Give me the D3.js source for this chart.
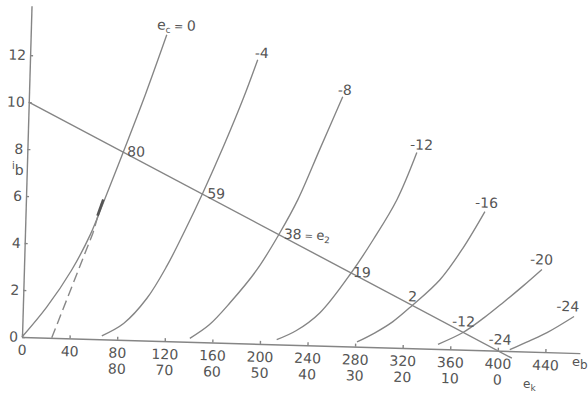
<!DOCTYPE html>
<html><head><meta charset="utf-8">
<script src="https://cdn.jsdelivr.net/npm/d3@7"></script>
<style>
html,body{margin:0;padding:0;background:#fff;}
svg{display:block;}
text{font-family:"DejaVu Sans",sans-serif;fill:#555;}
</style></head><body>
<svg id="c" width="588" height="395"></svg>
<script>
// ---- data (e_b volts, i_b mA) ----
const xTicks = [0, 40, 80, 120, 160, 200, 240, 280, 320, 360, 400, 440];
const ekTickPos = [80, 120, 160, 200, 240, 280, 320, 360, 400];
const ekLabels = ["80", "70", "60", "50", "40", "30", "20", "10", "0"];
const yTicks = [0, 2, 4, 6, 8, 10, 12];
const gridVolts = ["0", "-4", "-8", "-12", "-16", "-20", "-24"];
const curveEc0   = [[0,0],[20,1.3],[40,2.9],[55,4.45],[65,5.8],[81,8.05],[98,10.5],[114.3,13.03]];
const curveEc4   = [[67,0.15],[85,0.7],[104,1.8],[120,3.2],[134,4.7],[148.4,6.35],[165,8.4],[180,10.4],[191.3,12.08]];
const curveEc8   = [[141,0.15],[157,0.75],[173.9,1.71],[195.7,3.15],[214.1,4.75],[228.4,6.18],[246,8.4],[263.6,10.61]];
const curveEc12  = [[214,0.2],[230,0.6],[249.7,1.4],[275.6,3.18],[293,4.6],[311.6,6.3],[327.2,8.33]];
const curveEc16  = [[281.5,0.2],[296,0.6],[311.2,1.11],[326.8,1.81],[349.7,2.95],[368,4.3],[385.8,5.9]];
const curveEc20  = [[349.6,0.2],[370.3,0.73],[388,1.4],[403.2,2.05],[420,2.8],[435.1,3.51]];
const curveEc24  = [[410,0.06],[426,0.45],[440.9,0.83],[463.2,1.55]];
const loadLine   = [[0,10],[412,-0.3]];
const dashedLine = [[25,0],[57,4.5],[64,5.85]];
const boldMark   = [[60.5,5.25],[65,5.95]];
const outputLabels = ["80", "59", "38", "19", "2", "-12", "-24"];

const curves = [curveEc0, curveEc4, curveEc8, curveEc12, curveEc16, curveEc20, curveEc24];

// ---- layout / style ----
const svg = d3.select("#c");
const lineColor = "#858585";
const x = d3.scaleLinear().domain([0, 469]).range([0, 469 * 1.19]);
const y = d3.scaleLinear().domain([0, 14.1]).range([0, -14.1 * 23.5]);
const g = svg.append("g").attr("transform", "translate(22,337) rotate(1.65)");

const line = d3.line().x(d => x(d[0])).y(d => y(d[1]));
const smooth = d3.line().x(d => x(d[0])).y(d => y(d[1])).curve(d3.curveCatmullRom.alpha(0.5));

// axes
const xAxis = g.append("g").call(d3.axisBottom(x).tickValues(xTicks).tickSize(-3).tickSizeOuter(0).tickPadding(8));
const ekAxis = g.append("g").call(d3.axisBottom(x).tickValues(ekTickPos).tickFormat((d, i) => ekLabels[i]).tickSize(0).tickPadding(24));
ekAxis.select(".domain").remove();
const yAxis = g.append("g").call(d3.axisLeft(y).tickValues(yTicks).tickSize(-3).tickSizeOuter(0).tickPadding(4));
[xAxis, ekAxis, yAxis].forEach(a => {
  a.selectAll("path, line").attr("stroke", lineColor).attr("stroke-width", 1.4);
  a.selectAll("text").attr("font-family", "DejaVu Sans, sans-serif").attr("font-size", 14).attr("fill", "#555");
});
xAxis.selectAll("text").attr("fill", "#444");

// characteristic curves
g.selectAll("path.curve").data(curves).join("path")
  .attr("class", "curve")
  .attr("d", smooth)
  .attr("fill", "none").attr("stroke", lineColor).attr("stroke-width", 1.35);

// load line
g.append("path").attr("d", line(loadLine))
  .attr("fill", "none").attr("stroke", lineColor).attr("stroke-width", 1.4);

// dashed line
g.append("path").attr("d", line(dashedLine))
  .attr("fill", "none").attr("stroke", "#888").attr("stroke-width", 1.4)
  .attr("stroke-dasharray", "10,5");
g.append("path").attr("d", line(boldMark))
  .attr("fill", "none").attr("stroke", "#555").attr("stroke-width", 2.6);

// curve labels at top ends
const topOffsets = [[-10,-5],[-3,-2],[-5,-2],[-7,-3],[-10,-4],[-12,-5],[-18,-5]];
curves.forEach((c, i) => {
  const p = c[c.length - 1];
  const t = g.append("text")
    .attr("x", x(p[0]) + topOffsets[i][0])
    .attr("y", y(p[1]) + topOffsets[i][1])
    .attr("font-size", 14);
  if (i === 0) {
    t.attr("fill", "#333");
    t.append("tspan").text("e");
    t.append("tspan").attr("font-size", 9).attr("dy", 3).text("c");
    t.append("tspan").attr("dy", -3).attr("font-size", 11).text(" = ");
    t.append("tspan").text(gridVolts[i]);
  } else {
    t.text(gridVolts[i]);
  }
});

// intersection labels with load line
const loadAt = e => loadLine[0][1] + (loadLine[1][1] - loadLine[0][1]) * (e - loadLine[0][0]) / (loadLine[1][0] - loadLine[0][0]);
function crossing(c) {
  for (let k = 0; k < c.length - 1; k++) {
    const a = c[k], b = c[k + 1];
    const fa = a[1] - loadAt(a[0]), fb = b[1] - loadAt(b[0]);
    if (fa <= 0 && fb >= 0) {
      const t = fa / (fa - fb);
      return [a[0] + t * (b[0] - a[0]), a[1] + t * (b[1] - a[1])];
    }
  }
  return c[0];
}
const outOffsets = [[4,4,"start"],[5,4,"start"],[5,4,"start"],[2,4,"start"],[0,-4,"middle"],[0,-6,"middle"],[-10,-5,"middle"]];
curves.forEach((c, i) => {
  const p = crossing(c);
  const t = g.append("text")
    .attr("x", x(p[0]) + outOffsets[i][0])
    .attr("y", y(p[1]) + outOffsets[i][1])
    .attr("text-anchor", outOffsets[i][2])
    .attr("font-size", 14);
  t.append("tspan").text(outputLabels[i]);
  if (i === 2) {
    t.append("tspan").attr("font-size", 10).text(" = ");
    t.append("tspan").attr("font-size", 13).text("e");
    t.append("tspan").attr("font-size", 9).attr("dy", 3).text("2");
  }
});

// axis titles
const ib = svg.append("text").attr("x", 12).attr("y", 175).attr("font-size", 14).attr("fill", "#444");
ib.append("tspan").attr("font-size", 10).attr("dy", -6).text("i");
ib.append("tspan").attr("dy", 6).text("b");
const eb = svg.append("text").attr("x", 572).attr("y", 366).attr("font-size", 13).attr("fill", "#444");
eb.append("tspan").text("e");
eb.append("tspan").attr("font-size", 12).attr("dy", 3).text("b");
const ek = svg.append("text").attr("x", 523).attr("y", 388).attr("font-size", 12).attr("fill", "#444");
ek.append("tspan").text("e");
ek.append("tspan").attr("font-size", 9).attr("dy", 3).text("k");
</script>
</body></html>
